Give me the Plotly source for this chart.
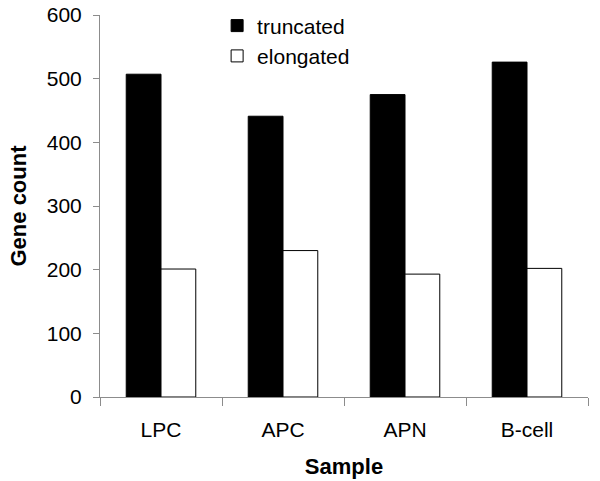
import plotly.graph_objects as go

samples = ["LPC", "APC", "APN", "B-cell"]
truncated = [507, 441, 475, 526]
elongated = [201, 230, 193, 202]
y_ticks = [0, 100, 200, 300, 400, 500, 600]

fnt = "Liberation Sans, Arial, sans-serif"

fig = go.Figure()
fig.add_trace(go.Bar(x=samples, y=truncated, name="truncated",
                     marker=dict(color="black", line=dict(color="black", width=1))))
fig.add_trace(go.Bar(x=samples, y=elongated, name="elongated",
                     marker=dict(color="white", line=dict(color="black", width=1))))

fig.update_layout(
    width=600, height=481,
    margin=dict(l=100, r=12, t=15, b=84, autoexpand=False),
    plot_bgcolor="white", paper_bgcolor="white",
    barmode="group", bargap=0.43, bargroupgap=0,
    font=dict(family=fnt, size=21, color="black"),
    legend=dict(x=0.24, y=1.025, xanchor="left", yanchor="top",
                font=dict(size=21), bgcolor="rgba(0,0,0,0)",
                tracegroupgap=0, itemwidth=30),
    showlegend=True,
)
fig.update_xaxes(
    showline=True, linecolor="#8c8c8c", linewidth=1,
    ticks="outside", tickson="boundaries", ticklen=8, tickcolor="#8c8c8c",
    tickfont=dict(size=21), ticklabelstandoff=14,
    title=dict(text="<b>Sample</b>", font=dict(size=22), standoff=18),
)
fig.update_yaxes(
    range=[0, 600], tickvals=y_ticks, showgrid=False, zeroline=False,
    showline=True, linecolor="#8c8c8c", linewidth=1,
    ticks="outside", ticklen=6, tickcolor="#8c8c8c",
    tickfont=dict(size=21), ticklabelstandoff=7,
    title=dict(text="<b>Gene count</b>", font=dict(size=22), standoff=14),
)

# drop the default 8px body margin so the figure sits at the page corner
fig.write_html("out.html", config={"displayModeBar": False},
               post_script="document.body.style.margin='0px';")
